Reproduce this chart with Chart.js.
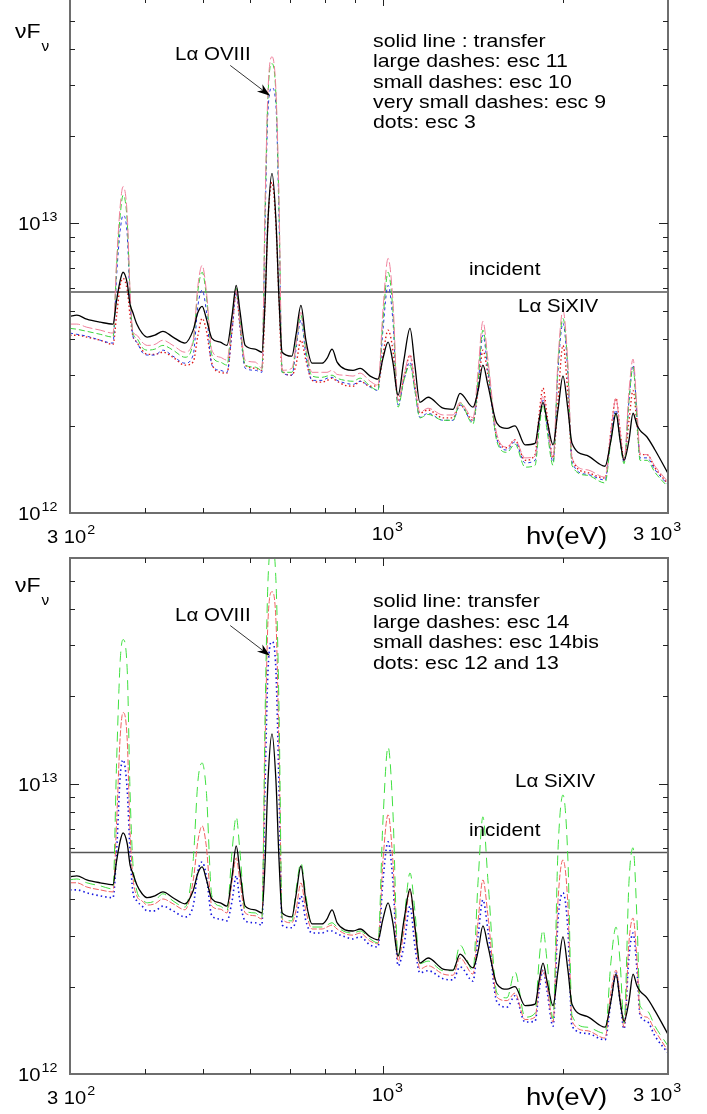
<!DOCTYPE html>
<html>
<head>
<meta charset="utf-8">
<script src="https://cdn.jsdelivr.net/npm/chart.js@4.4.0/dist/chart.umd.min.js"></script>
<style>
  html, body { margin: 0; padding: 0; background: #fff; overflow: hidden; }
  body { width: 707px; height: 1114px; position: relative; }
  canvas { position: absolute; left: 0; }
  #c1 { top: -3px; }
  #c2 { top: 557px; }
</style>
</head>
<body>
<canvas id="c1" width="707" height="560"></canvas>
<canvas id="c2" width="707" height="557"></canvas>
<script>
// photon energy grid (eV), shared by every spectrum
const energy = [
  300, 308, 320, 337, 354, 359, 364, 368, 374, 378,
  382, 388, 396, 404, 416, 429, 446, 467, 482, 491,
  499, 507, 518, 535, 549, 560, 569, 577, 589, 612,
  628, 636, 643, 653, 663, 671, 679, 705, 716, 730,
  744, 762, 792, 807, 823, 839, 865, 892, 917, 953,
  982, 1001, 1021, 1040, 1061, 1085, 1111, 1132, 1154, 1191,
  1262, 1311, 1347, 1416, 1444, 1471, 1500, 1553, 1614, 1664,
  1730, 1798, 1826, 1854, 1883, 1927, 1964, 2002, 2041, 2073,
  2196, 2354, 2409, 2456, 2494, 2533, 2582, 2622, 2663, 2694,
  2767, 2854, 3000
];

// nuFnu in units of 1e12
const transfer = [
  4.78, 4.82, 4.67, 4.56, 4.49, 5.43, 6.36, 6.78, 6.21, 5.26,
  4.93, 4.49, 4.18, 4.05, 4.11, 4.24, 4.05, 3.86, 4.28, 4.93,
  5.17, 4.70, 4.01, 3.89, 3.79, 4.82, 6.11, 5.01, 3.79, 3.68,
  3.59, 5.43, 10.24, 14.87, 10.24, 5.43, 3.59, 3.48, 4.11, 5.21,
  3.95, 3.29, 3.29, 3.42, 3.68, 3.32, 3.14, 3.11, 3.16, 2.97,
  2.90, 3.42, 3.89, 3.32, 2.55, 3.37, 4.34, 3.24, 2.41, 2.51,
  2.30, 2.28, 2.59, 2.32, 2.65, 3.24, 2.76, 2.04, 1.96, 2.00,
  1.72, 1.74, 2.09, 2.41, 2.09, 1.72, 2.27, 2.97, 2.27, 1.74,
  1.58, 1.45, 1.79, 2.21, 1.79, 1.52, 1.79, 2.21, 2.01, 1.93,
  1.83, 1.65, 1.37
];

const esc11 = [
  4.49, 4.49, 4.38, 4.28, 4.18, 7.45, 11.5, 13.4, 10.66, 5.88,
  4.28, 4.11, 3.89, 3.79, 3.82, 3.95, 3.79, 3.59, 3.95, 6.11,
  7.16, 5.88, 3.65, 3.45, 3.37, 4.63, 5.88, 4.63, 3.37, 3.32,
  3.16, 12.0, 28.7, 37.6, 28.7, 12.0, 3.11, 3.16, 3.79, 4.93,
  3.79, 3.06, 3.06, 3.06, 3.11, 3.01, 2.99, 2.97, 3.04, 2.85,
  2.76, 5.01, 7.57, 5.43, 2.45, 2.99, 3.51, 2.76, 2.23, 2.30,
  2.18, 2.18, 2.41, 2.13, 3.11, 4.59, 3.37, 1.86, 1.69, 1.79,
  1.55, 1.57, 2.09, 2.55, 2.09, 1.55, 3.37, 5.01, 3.24, 1.55,
  1.41, 1.33, 1.93, 2.49, 1.93, 1.52, 2.65, 3.40, 2.27, 1.61,
  1.59, 1.45, 1.28
];

const esc10 = [
  4.34, 4.31, 4.24, 4.14, 4.05, 7.16, 10.66, 12.5, 10.08, 5.78,
  4.21, 4.01, 3.73, 3.65, 3.68, 3.79, 3.65, 3.45, 3.89, 5.88,
  6.78, 5.65, 3.51, 3.32, 3.24, 4.70, 5.97, 4.63, 3.24, 3.19,
  3.11, 11.5, 27.6, 35.6, 27.6, 11.09, 3.06, 3.06, 3.79, 4.82,
  3.65, 2.97, 2.94, 2.97, 2.99, 2.92, 2.87, 2.85, 2.92, 2.74,
  2.65, 4.63, 6.78, 5.01, 2.32, 2.87, 3.24, 2.65, 2.13, 2.19,
  2.09, 2.09, 2.40, 2.03, 2.87, 4.28, 3.24, 1.76, 1.62, 1.73,
  1.44, 1.46, 1.93, 2.36, 1.93, 1.46, 3.24, 4.70, 3.11, 1.46,
  1.35, 1.27, 1.79, 2.21, 1.79, 1.48, 2.45, 3.19, 2.09, 1.52,
  1.52, 1.38, 1.23
];

const esc9 = [
  4.18, 4.14, 4.08, 3.95, 3.86, 6.62, 9.46, 10.66, 9.09, 5.43,
  4.11, 3.89, 3.59, 3.51, 3.51, 3.65, 3.48, 3.29, 3.51, 5.21,
  5.88, 5.01, 3.24, 3.11, 3.06, 4.28, 5.78, 4.45, 3.16, 3.11,
  3.06, 10.24, 24.5, 29.4, 25.5, 10.24, 3.06, 2.99, 3.65, 4.63,
  3.51, 2.87, 2.87, 2.92, 2.94, 2.87, 2.81, 2.78, 2.85, 2.72,
  2.65, 4.28, 6.11, 4.63, 2.36, 2.87, 3.32, 2.65, 2.14, 2.21,
  2.09, 2.09, 2.36, 2.06, 2.76, 4.11, 3.11, 1.79, 1.65, 1.76,
  1.49, 1.52, 2.01, 2.45, 2.01, 1.50, 3.11, 4.52, 2.99, 1.50,
  1.36, 1.30, 1.86, 2.27, 1.79, 1.50, 2.45, 3.24, 2.13, 1.55,
  1.55, 1.41, 1.25
];

const esc3 = [
  4.11, 4.11, 4.05, 3.95, 3.82, 4.82, 6.11, 6.46, 5.88, 4.82,
  4.11, 3.89, 3.65, 3.53, 3.53, 3.59, 3.45, 3.24, 3.32, 4.11,
  4.70, 4.28, 3.29, 3.06, 3.04, 4.28, 5.78, 4.45, 3.24, 3.16,
  3.11, 5.43, 10.24, 13.85, 9.84, 5.43, 3.11, 2.99, 3.24, 3.95,
  3.37, 2.87, 2.83, 2.87, 2.92, 2.85, 2.76, 2.74, 2.85, 2.74,
  2.76, 3.51, 4.28, 3.65, 2.45, 2.92, 3.51, 2.76, 2.21, 2.27,
  2.13, 2.13, 2.36, 2.09, 2.65, 3.65, 2.99, 1.82, 1.68, 1.79,
  1.52, 1.59, 2.18, 2.70, 2.18, 1.55, 2.45, 3.79, 2.55, 1.55,
  1.38, 1.32, 1.93, 2.49, 1.93, 1.52, 2.09, 2.65, 2.01, 1.59,
  1.59, 1.43, 1.26
];

const esc14 = [
  4.67, 4.70, 4.56, 4.45, 4.34, 12.0, 26.6, 31.4, 24.5, 9.46,
  5.43, 4.28, 4.01, 3.89, 3.95, 4.18, 3.95, 3.76, 5.43, 10.24,
  11.8, 9.46, 4.11, 3.79, 3.65, 5.88, 7.70, 5.88, 3.65, 3.59,
  3.45, 17.85, 50.1, 66.0, 50.1, 17.85, 3.45, 3.37, 4.28, 5.34,
  4.11, 3.21, 3.21, 3.26, 3.32, 3.21, 3.09, 3.06, 3.11, 2.92,
  2.83, 7.45, 13.4, 8.07, 2.55, 3.37, 4.93, 3.65, 2.40, 2.45,
  2.27, 2.27, 2.78, 2.27, 4.63, 7.70, 4.63, 1.90, 1.83, 2.25,
  1.57, 1.62, 2.45, 3.14, 2.45, 1.55, 5.88, 9.16, 5.43, 1.59,
  1.45, 1.38, 2.45, 3.21, 2.45, 1.50, 4.63, 6.02, 3.37, 1.72,
  1.65, 1.46, 1.25
];

const esc14bis = [
  4.56, 4.56, 4.41, 4.31, 4.24, 7.45, 14.6, 17.6, 14.07, 6.88,
  4.82, 4.11, 3.95, 3.82, 3.86, 4.01, 3.86, 3.68, 4.63, 6.36,
  7.16, 6.11, 3.79, 3.70, 3.59, 4.63, 5.56, 4.63, 3.59, 3.51,
  3.42, 14.07, 36.5, 45.9, 36.5, 13.0, 3.42, 3.32, 3.65, 4.56,
  3.65, 3.16, 3.16, 3.21, 3.26, 3.16, 3.04, 3.01, 3.06, 2.87,
  2.81, 5.43, 7.82, 5.43, 2.45, 3.11, 4.28, 3.11, 2.30, 2.36,
  2.21, 2.19, 2.51, 2.21, 3.37, 4.67, 3.51, 1.84, 1.79, 1.90,
  1.54, 1.57, 2.01, 2.28, 2.01, 1.51, 3.95, 5.47, 3.79, 1.52,
  1.41, 1.33, 1.93, 2.28, 1.86, 1.45, 2.87, 3.45, 2.45, 1.62,
  1.57, 1.41, 1.20
];

const esc12and13 = [
  4.31, 4.31, 4.21, 4.11, 4.05, 5.88, 10.66, 12.1, 9.46, 5.88,
  4.28, 3.95, 3.79, 3.65, 3.65, 3.79, 3.65, 3.48, 3.79, 5.01,
  5.38, 4.82, 3.51, 3.42, 3.37, 3.95, 4.82, 3.95, 3.37, 3.32,
  3.26, 10.24, 24.5, 30.9, 24.5, 9.46, 3.26, 3.19, 3.37, 4.11,
  3.37, 3.06, 3.06, 3.11, 3.11, 3.04, 2.97, 2.92, 2.97, 2.78,
  2.74, 4.63, 6.31, 4.63, 2.36, 2.76, 3.79, 2.76, 2.23, 2.27,
  2.13, 2.11, 2.34, 2.09, 2.99, 3.98, 3.11, 1.77, 1.70, 1.86,
  1.51, 1.52, 1.93, 2.28, 1.93, 1.46, 3.37, 4.21, 3.11, 1.46,
  1.38, 1.31, 1.79, 2.23, 1.79, 1.43, 2.55, 3.06, 2.27, 1.59,
  1.52, 1.35, 1.18
];

// flat incident continuum
const incidentEnergy = [300, 3000];
const incidentFlux = [5.8, 5.8];

// arrow to the O VIII line: [tail, tip] as (eV, 1e12)
const arrowEnergy = [556, 648];
const arrowFlux = [35.1, 27.6];

// axis ticks
const xMajorTicks = [1000];
const xMinorTicks = [400, 500, 600, 700, 800, 900, 2000];
const yMajorTicks = [10];
const yMinorTicks = [2, 3, 4, 5, 6, 7, 8, 9, 20, 30, 40, 50];
const xTickLabels = [['3 10', '2'], ['10', '3'], ['3 10', '3']];
const xTickValues = [300, 1000, 3000];
const yTickLabels = [['10', '12'], ['10', '13']];
const yTickValues = [1, 10];

const legendTop = ['solid line : transfer', 'large dashes: esc 11', 'small dashes: esc 10',
  'very small dashes: esc 9', 'dots: esc 3'];
const legendBottom = ['solid line: transfer', 'large dashes: esc 14', 'small dashes: esc 14bis',
  'dots: esc 12 and 13'];

const FONT = "'Liberation Sans', Arial, sans-serif";

// text drawn slightly widened, returns the x where it ends
function put(ctx, str, x, y, size, stretch) {
  const k = stretch || 1.1;
  ctx.font = size + 'px ' + FONT;
  ctx.save();
  ctx.translate(x, y);
  ctx.scale(k, 1);
  ctx.fillText(str, 0, 0);
  ctx.restore();
  return x + ctx.measureText(str).width * k;
}

function power(ctx, lead, exp, x, y) {
  const end = put(ctx, lead, x, y, 18, 1.12);
  put(ctx, exp, end + 1, y - 9, 13, 1.1);
}

function series(values, color, dash, width) {
  return {
    data: energy.map((e, i) => ({ x: e, y: values[i] })),
    borderColor: color,
    borderDash: dash,
    borderWidth: width,
    pointRadius: 0,
    showLine: true,
    fill: false,
    cubicInterpolationMode: 'monotone'
  };
}

function incidentSet() {
  return {
    data: incidentEnergy.map((e, i) => ({ x: e, y: incidentFlux[i] })),
    borderColor: '#555',
    borderWidth: 1.5,
    pointRadius: 0,
    showLine: true
  };
}

// frame, inward ticks, labels and annotations
const framePlugin = {
  id: 'frame',
  afterDatasetsDraw(chart, args, o) {
    const { ctx, chartArea: a } = chart;
    const sx = chart.scales.x, sy = chart.scales.y;
    ctx.save();
    ctx.strokeStyle = '#6e6e6e';
    ctx.lineWidth = 2;
    ctx.strokeRect(a.left, a.top, a.right - a.left, a.bottom - a.top);

    ctx.strokeStyle = '#222';
    ctx.lineWidth = 1;
    const seg = (x1, y1, x2, y2) => {
      ctx.beginPath(); ctx.moveTo(x1, y1); ctx.lineTo(x2, y2); ctx.stroke();
    };
    const xt = (list, len) => list.forEach(v => {
      const px = Math.round(sx.getPixelForValue(v)) + 0.5;
      seg(px, a.bottom, px, a.bottom - len);
      seg(px, a.top, px, a.top + len);
    });
    const yt = (list, len) => list.forEach(v => {
      const py = Math.round(sy.getPixelForValue(v)) + 0.5;
      seg(a.left, py, a.left + len, py);
      seg(a.right, py, a.right - len, py);
    });
    xt(xMinorTicks, 5); xt(xMajorTicks, 8);
    yt(yMinorTicks, 5); yt(yMajorTicks, 9);

    ctx.fillStyle = '#000';
    ctx.textBaseline = 'alphabetic';
    yTickValues.forEach((v, i) => {
      power(ctx, yTickLabels[i][0], yTickLabels[i][1], a.left - 52, sy.getPixelForValue(v) + 7);
    });
    const xOff = [-23, -11, -35];
    const yOff = [30, 27, 27];
    xTickValues.forEach((v, i) => {
      power(ctx, xTickLabels[i][0], xTickLabels[i][1], sx.getPixelForValue(v) + xOff[i], a.bottom + yOff[i]);
    });
    put(ctx, 'h\u03bd(eV)', a.left + 456, a.bottom + 31, 23, 1.2);

    // y title
    const e = put(ctx, '\u03bdF', a.left - 55, a.top + o.titleY, 20, 1.15);
    put(ctx, '\u03bd', e + 1, a.top + o.titleY + 13, 14, 1.1);

    // legend text
    o.legend.forEach((t, i) => put(ctx, t, a.left + 303, a.top + 49 + i * o.legendStep, 19, 1.12));
    put(ctx, 'L\u03b1 OVIII', a.left + 105, a.top + o.oviiiY, 19, 1.08);
    put(ctx, 'incident', a.left + 399, a.top + o.incidentY, 19, 1.09);
    put(ctx, 'L\u03b1 SiXIV', a.left + o.sixivX, a.top + o.sixivY, 19, 1.08);

    // arrow
    const x0 = sx.getPixelForValue(arrowEnergy[0]), y0 = sy.getPixelForValue(arrowFlux[0]);
    const x1 = sx.getPixelForValue(arrowEnergy[1]), y1 = sy.getPixelForValue(arrowFlux[1]);
    const ang = Math.atan2(y1 - y0, x1 - x0);
    ctx.strokeStyle = '#000';
    ctx.lineWidth = 0.8;
    seg(x0, y0, x1 - 8 * Math.cos(ang), y1 - 8 * Math.sin(ang));
    ctx.beginPath();
    ctx.moveTo(x1, y1);
    ctx.lineTo(x1 - 13 * Math.cos(ang) + 4.5 * Math.sin(ang), y1 - 13 * Math.sin(ang) - 4.5 * Math.cos(ang));
    ctx.lineTo(x1 - 9 * Math.cos(ang), y1 - 9 * Math.sin(ang));
    ctx.lineTo(x1 - 13 * Math.cos(ang) - 4.5 * Math.sin(ang), y1 - 13 * Math.sin(ang) + 4.5 * Math.cos(ang));
    ctx.closePath();
    ctx.fill();
    ctx.restore();
  }
};

function makeChart(id, datasets, padBottom, frame) {
  new Chart(document.getElementById(id), {
    type: 'scatter',
    data: { datasets },
    options: {
      responsive: false,
      animation: false,
      layout: { padding: { left: 70, right: 39, top: 1, bottom: padBottom } },
      scales: {
        x: { type: 'logarithmic', min: 300, max: 3000, display: false },
        y: { type: 'logarithmic', min: 1, max: 60, display: false }
      },
      plugins: { legend: { display: false }, tooltip: { enabled: false }, frame }
    },
    plugins: [framePlugin]
  });
}

makeChart('c1', [
  series(transfer, '#000', [], 1.3),
  series(esc11, '#ef7f9a', [10, 3], 1),
  series(esc10, '#3ad43a', [6, 3], 1),
  series(esc9, '#2433e0', [3, 3], 1),
  series(esc3, '#e01a1a', [1.5, 2.5], 1.4),
  incidentSet()
], 44, { legend: legendTop, legendStep: 20.25, titleY: 40, oviiiY: 62, incidentY: 277, sixivX: 448, sixivY: 314 });

makeChart('c2', [
  series(transfer, '#000', [], 1.3),
  series(esc14, '#3fe03f', [10, 6], 1),
  series(esc14bis, '#f06060', [6, 2], 1),
  series(esc12and13, '#1515e0', [1.5, 3], 1.6),
  incidentSet()
], 40, { legend: legendBottom, legendStep: 20.6, titleY: 34, oviiiY: 63, incidentY: 278, sixivX: 445, sixivY: 229 });
</script>
</body>
</html>
